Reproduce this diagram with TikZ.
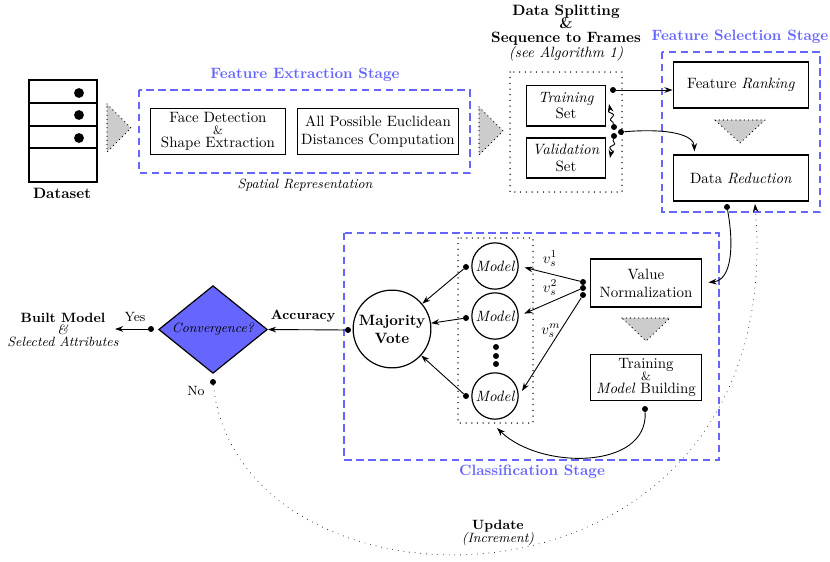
\documentclass[tikz,border=0pt]{standalone}
\usetikzlibrary{arrows.meta,shapes.geometric,decorations.pathmorphing,calc}

\tikzset{
  stage/.style={draw=blue!60, thick, dash pattern=on 5pt off 3pt},
  stagetitle/.style={text=blue!60, font=\bfseries},
  box/.style={draw, thick, align=center, inner sep=1pt},
  model/.style={draw, thick, circle, minimum size=31pt, inner sep=0pt, font=\itshape},
  dotbox/.style={draw, line width=1pt, dash pattern=on 0pt off 3.8pt, line cap=round},
  dotline/.style={line width=1pt, dash pattern=on 0pt off 3.8pt, line cap=round},
  flowtri/.style={fill=gray!40, line width=0.9pt, dash pattern=on 0pt off 2.8pt, line cap=round},
  linkdot/.style={circle, fill, inner sep=0pt, minimum size=4pt},
  arr/.style={-{Stealth[length=5.5pt,width=3.8pt]}, semithick},
  wavy/.style={decorate, decoration={snake, amplitude=1.4pt, segment length=6pt, pre length=1pt, post length=2pt}},
}

\begin{document}
\begin{tikzpicture}[x=0.02352cm, y=-0.02352cm]
  \useasboundingbox (0,0) rectangle (830,561);

  % Dataset
  \draw[thick] (29,80) rectangle (97,182);
  \foreach \y in {103,126,148} \draw[thick] (29,\y) -- (97,\y);
  \foreach \y in {93,115,138} \fill (79,\y) circle (3.3pt);
  \node[font=\bfseries] (dataset) at (62,193) {Dataset};
  \filldraw[flowtri] (107,104) -- (131,128) -- (107,152) -- cycle;

  % Feature extraction
  \draw[stage] (139,90) rectangle (470,173);
  \node[stagetitle] (fetitle) at (305,75) {Feature Extraction Stage};
  \node[box, minimum width=90.7pt, minimum height=31.3pt] (face) at (218,131.5)
    {Face Detection\\[-4pt]{\footnotesize\&}\\[-3pt]Shape Extraction};
  \node[box, minimum width=108pt, minimum height=31.3pt] (dist) at (378,131.5)
    {All Possible Euclidean\\Distances Computation};
  \node[font=\small\itshape] (spatial) at (305,185) {Spatial Representation};
  \filldraw[flowtri] (479,107) -- (503,131) -- (479,155) -- cycle;

  % Data splitting
  \draw[dotbox] (510,72) rectangle (622,192);
  \node[font=\bfseries, align=center] (split) at (566,33)
    {Data Splitting\\[-3pt]\&\\[-3pt]Sequence to Frames\\[-2pt]{\normalfont\itshape (see Algorithm 1)}};
  \node[box, minimum width=53.3pt, minimum height=27.3pt] (train) at (566,105.5) {\textit{Training}\\[-1pt]Set};
  \node[box, minimum width=53.3pt, minimum height=26.7pt] (valid) at (566,158) {\textit{Validation}\\[-1pt]Set};
  \node[linkdot] (trdot) at (613,90) {};
  \node[linkdot] (sdot1) at (614,127) {};
  \node[linkdot] (sdot2) at (614,136) {};
  \node[linkdot] (vsdot) at (621,132) {};
  \coordinate (trin) at (609,104);
  \coordinate (vain) at (610,158);

  % Feature selection
  \draw[stage] (662,52) rectangle (820,212);
  \node[stagetitle] (fstitle) at (740,37) {Feature Selection Stage};
  \node[box, minimum width=90.7pt, minimum height=30.7pt] (rank) at (741,85) {Feature \textit{Ranking}};
  \filldraw[flowtri] (715,120) -- (765,120) -- (740,143) -- cycle;
  \node[box, minimum width=90.7pt, minimum height=30.7pt] (reduce) at (741,178) {Data \textit{Reduction}};
  \coordinate (redin) at ($(reduce.north west)!0.16!(reduce.north east)$);

  \draw[arr] (trdot) -- (trdot -| rank.west);
  \draw[arr, wavy] (sdot1) -- (trin);
  \draw[arr, wavy] (sdot2) -- (vain);
  \draw[arr, shorten >=2pt] (vsdot) .. controls (670,128) and (694,135) .. (redin);

  % Classification
  \draw[stage] (344,233) rectangle (719,460);
  \node[stagetitle] (cltitle) at (532,472) {Classification Stage};
  \draw[dotbox] (458,238) rectangle (533,423);
  \node[model] (m1) at (495,266) {Model};
  \node[model] (m2) at (495,316) {Model};
  \node[model] (m3) at (495,396) {Model};
  \foreach \y in {347,356,364} \fill (496,\y) circle (2pt);
  \node[draw, thick, circle, minimum size=52pt, inner sep=0pt, align=center, font=\bfseries] (vote) at (392,329) {Majority\\Vote};

  \node[linkdot] (l1) at (466,267) {};
  \node[linkdot] (l2) at (466,318) {};
  \node[linkdot] (l3) at (466,396) {};
  \foreach \i in {1,2,3} \draw[arr] (l\i) -- (vote);

  \node[linkdot] (r1) at (583,282) {};
  \node[linkdot] (r2) at (583,288) {};
  \node[linkdot] (r3) at (583,295) {};
  \foreach \i in {1,2,3} \draw[arr, shorten >=4pt] (r\i) -- (m\i.east);
  \node (v1) at (550,259) {$v_s^1$};
  \node (v2) at (550,288) {$v_s^2$};
  \node (vm) at (551,331) {$v_s^m$};

  \node[box, minimum width=74.7pt, minimum height=32pt] (norm) at (646,283) {Value\\Normalization};
  \filldraw[flowtri] (622,318) -- (670,318) -- (646,341) -- cycle;
  \node[box, minimum width=74.7pt, minimum height=31.3pt] (build) at (646,377.5)
    {Training\\[-4pt]{\footnotesize\&}\\[-3pt]\textit{Model} Building};

  \node[linkdot] (rddot) at (727,207) {};
  \draw[arr, shorten >=4pt] (rddot) .. controls (734,245) and (732,280) .. (norm.east);
  \node[linkdot] (tmdot) at (645,409) {};
  \coordinate (ensin) at (497,428);
  \draw[arr] (tmdot) .. controls (648,470) and (540,470) .. (ensin);

  % Decision
  \node[diamond, draw, thick, fill=blue!60, aspect=1.24, minimum width=72.7pt, minimum height=58.7pt,
        inner sep=0pt, font=\small\itshape] (conv) at (213,329.5) {Convergence?};
  \node[linkdot] (accdot) at (348,330) {};
  \draw[arr] (accdot) -- (conv.east);
  \node[font=\small\bfseries] (acc) at (303,316) {Accuracy};

  \node[linkdot] (yesdot) at (151,329) {};
  \coordinate (yesend) at (115,329);
  \draw[arr] (yesdot) -- (yesend);
  \node[font=\small] (yes) at (135,317) {Yes};
  \node[align=center, font=\small] (built) at (63,330)
    {\textbf{Built Model}\\[-3pt]\textit{\&}\\[-3pt]\textit{Selected Attributes}};

  \node[linkdot] (nodot) at (213,382) {};
  \node[font=\small] (no) at (196,391) {No};
  \coordinate (updend) at (755,204);
  \draw[dotline, arr] (nodot) .. controls (240,635) and (790,635) .. (updend);
  \node[align=center, font=\small] (update) at (498,533) {\textbf{Update}\\[-2pt]\textit{(Increment)}};
\end{tikzpicture}
\end{document}
